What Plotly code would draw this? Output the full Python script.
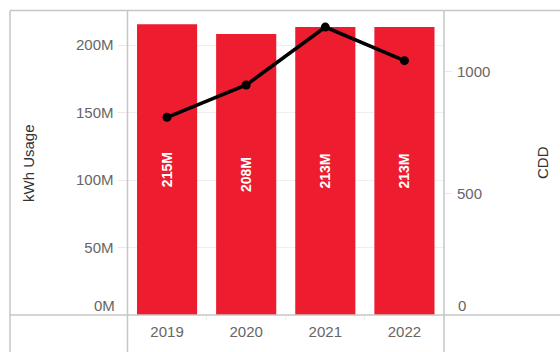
import plotly.graph_objects as go

# Annual electricity usage and cooling degree days
years = ["2019", "2020", "2021", "2022"]
kwh_usage = [215.4e6, 208.2e6, 213.3e6, 213.3e6]
cdd = [812, 945, 1183, 1045]

kwh_ticks = [50e6, 100e6, 150e6, 200e6]
kwh_tick_text = ["50M", "100M", "150M", "200M"]
cdd_ticks = [500, 1000]
cdd_tick_text = ["500", "1000"]

W, H = 560, 352
FONT = "Liberation Sans, Arial, sans-serif"
BORDER = "#c6c6c6"
TICK_GREY = "#666666"

# plot pane in pixels
px_left, px_right = 127.5, 444.0
px_top, px_bottom = 11.0, 315.0

def fx(px):
    return px / W

def fy(py):
    return 1 - py / H

fig = go.Figure()

fig.add_trace(go.Bar(
    x=years,
    y=kwh_usage,
    width=0.76,
    marker=dict(color="#ed1c2e", line=dict(width=0)),
    texttemplate="%{y:.3s}",
    textposition="inside",
    insidetextanchor="middle",
    textangle=-90,
    textfont=dict(family=FONT, size=14, color="white", weight="bold"),
    yaxis="y",
    showlegend=False,
))

fig.add_trace(go.Scatter(
    x=years,
    y=cdd,
    mode="lines+markers",
    line=dict(color="black", width=3.5),
    marker=dict(color="black", size=9),
    yaxis="y2",
    showlegend=False,
))

fig.update_layout(
    width=W,
    height=H,
    autosize=False,
    margin=dict(l=0, r=0, t=0, b=0),
    paper_bgcolor="white",
    plot_bgcolor="white",
    font=dict(family=FONT, size=15, color=TICK_GREY),
    bargap=0.24,
    xaxis=dict(
        domain=[fx(px_left), fx(px_right)],
        range=[-0.5, 3.5],
        type="category",
        showgrid=False,
        zeroline=False,
        showline=False,
        ticks="outside",
        tickson="boundaries",
        ticklen=4,
        tickcolor="#eeeeee",
        tickfont=dict(family=FONT, size=15, color=TICK_GREY),
        ticklabelstandoff=6,
        anchor="y",
    ),
    yaxis=dict(
        domain=[fy(px_bottom), fy(px_top)],
        range=[0, 225.2e6],
        tickvals=kwh_ticks,
        ticktext=kwh_tick_text,
        showgrid=True,
        gridcolor="#efefef",
        gridwidth=1,
        zeroline=False,
        showline=False,
        ticks="outside",
        ticklen=9,
        tickcolor="#e8e8e8",
        tickfont=dict(family=FONT, size=15, color=TICK_GREY),
        ticklabelstandoff=1,
    ),
    yaxis2=dict(
        domain=[fy(px_bottom), fy(px_top)],
        range=[0, 1249],
        overlaying="y",
        side="right",
        anchor="x",
        tickvals=cdd_ticks,
        ticktext=cdd_tick_text,
        showgrid=False,
        zeroline=False,
        showline=False,
        ticks="outside",
        ticklen=7,
        tickcolor="#e8e8e8",
        tickfont=dict(family=FONT, size=15, color=TICK_GREY),
        ticklabelstandoff=2,
    ),
)

# zero labels sit just above the pane floor
fig.add_annotation(x=fx(117), xref="paper", y=0, yref="y", yshift=10,
                   text="0M", showarrow=False, xanchor="right", yanchor="middle",
                   font=dict(family=FONT, size=15, color=TICK_GREY))
fig.add_annotation(x=fx(456), xref="paper", y=0, yref="y2", yshift=10,
                   text="0", showarrow=False, xanchor="left", yanchor="middle",
                   font=dict(family=FONT, size=15, color=TICK_GREY))

# axis titles
fig.add_annotation(x=fx(28), xref="paper", y=fy(163), yref="paper",
                   text="kWh Usage", textangle=-90, showarrow=False,
                   xanchor="center", yanchor="middle",
                   font=dict(family=FONT, size=15, color="#333333"))
fig.add_annotation(x=fx(542), xref="paper", y=fy(163), yref="paper",
                   text="CDD", textangle=-90, showarrow=False,
                   xanchor="center", yanchor="middle",
                   font=dict(family=FONT, size=15, color="#333333"))

# table frame around the panes
frame = [
    (10, 10.5, W, 10.5),
    (10, 315, W, 315),
    (10, 10.5, 10, H),
    (px_left, 10.5, px_left, H),
    (px_right, 10.5, px_right, H),
]
for x0, y0, x1, y1 in frame:
    fig.add_shape(type="line", xref="paper", yref="paper",
                  x0=fx(x0), y0=fy(y0), x1=fx(x1), y1=fy(y1),
                  line=dict(color=BORDER, width=1.5), layer="above")

fig.write_html("out.html")
